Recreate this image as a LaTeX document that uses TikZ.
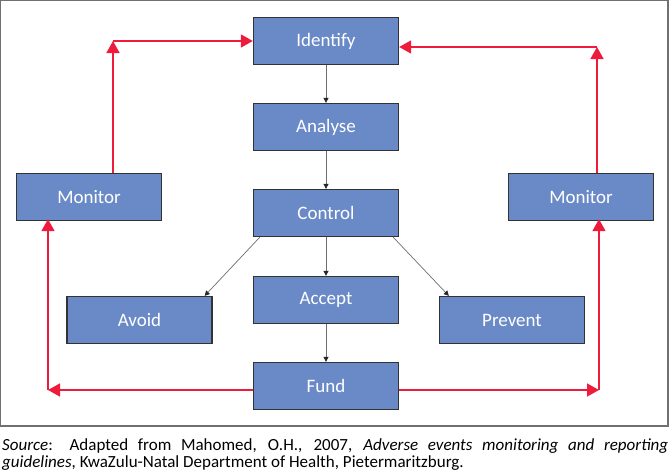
\documentclass[tikz,border=0pt]{standalone}
\usepackage{fontspec}
\setmainfont{Carlito}
\usetikzlibrary{arrows.meta}
\definecolor{boxfill}{HTML}{6A8AC7}
\definecolor{boxline}{HTML}{333333}
\definecolor{flowline}{HTML}{6E6E6E}
\definecolor{loopred}{HTML}{EE1C3C}
\definecolor{framegrey}{HTML}{707070}
\begin{document}
\begin{tikzpicture}[x=1pt,y=-1pt,
  box/.style={draw=boxline, fill=boxfill, line width=1.3pt, minimum width=145pt, minimum height=47pt, text=white, font=\fontsize{19}{22}\selectfont, inner sep=0pt},
  flow/.style={draw=flowline, line width=0.7pt, -{Triangle[length=5pt,width=5pt,fill=black!85,color=black!85]}},
  redloop/.style={draw=loopred, line width=1.6pt, -{Triangle[length=12pt,width=13pt]}}]
\useasboundingbox (0,0) rectangle (670,475);
\draw[framegrey, line width=1.2pt] (0.6,0.6) rectangle (668,426);

\node[box] (identify) at (326,41) {Identify};
\node[box] (analyse) at (326,127) {Analyse};
\node[box] (control) at (326,213) {Control};
\node[box] (accept) at (326,300) {Accept};
\node[box] (fund) at (326,386) {Fund};
\node[box] (monl) at (89,197) {Monitor};
\node[box] (monr) at (581,197) {Monitor};
\node[box] (avoid) at (139.5,320) {Avoid};
\node[box] (prevent) at (512,320) {Prevent};

\draw[flow] (identify) -- (analyse);
\draw[flow] (analyse) -- (control);
\draw[flow] (control) -- (accept);
\draw[flow] (accept) -- (fund);
\draw[flow] ([xshift=7pt]control.south west) -- ([xshift=-8pt]avoid.north east);
\draw[flow] ([xshift=-6pt]control.south east) -- ([xshift=10pt]prevent.north west);

\coordinate (cl1) at (113,41);
\coordinate (cr1) at (597,47);
\coordinate (cl2) at (48,390);
\coordinate (cr2) at (599,390);

\draw[redloop] (cl1 |- monl.north) -- (cl1);
\draw[redloop] (cl1) -- (identify.west);
\draw[redloop] (cr1 |- monr.north) -- (cr1);
\draw[redloop] (cr1) -- (cr1 -| identify.east);
\draw[redloop] (fund.west |- cl2) -- (cl2);
\draw[redloop] (cl2) -- ([yshift=2pt]cl2 |- monl.south);
\draw[redloop] (fund.east |- cr2) -- (cr2);
\draw[redloop] (cr2) -- ([yshift=2pt]cr2 |- monr.south);

\node[anchor=north west, text width=666pt, align=justify, inner sep=0pt,
  font=\fontsize{17}{16.5}\selectfont] (caption) at (2,438.5)
  {\hyphenpenalty=10000\exhyphenpenalty=10000\textit{Source}: Adapted from Mahomed, O.H., 2007, \textit{Adverse events monitoring and reporting\linebreak guidelines}, KwaZulu-Natal Department of Health, Pietermaritzburg.};
\end{tikzpicture}
\end{document}
